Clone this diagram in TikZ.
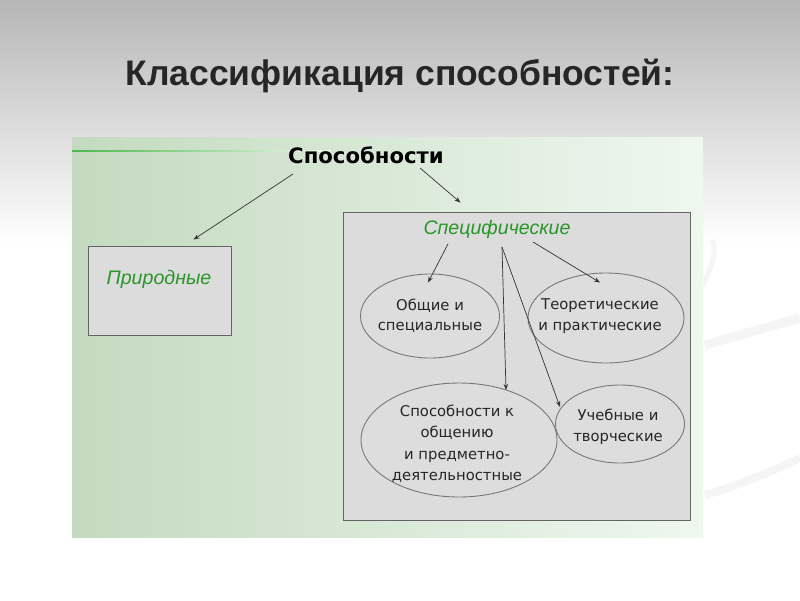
\documentclass[tikz,border=0pt]{standalone}
\usepackage{fontspec}
\setmainfont{Liberation Sans}
\newfontfamily\dvs{DejaVu Sans}
\usetikzlibrary{shapes.geometric,calc,arrows.meta}
\definecolor{boxfill}{RGB}{220,220,220}
\definecolor{boxdraw}{RGB}{100,100,100}
\definecolor{ellfill}{RGB}{221,221,221}
\definecolor{elldraw}{RGB}{120,120,120}
\definecolor{txtgreen}{RGB}{40,150,40}
\definecolor{panelL}{RGB}{196,218,192}
\definecolor{panelR}{RGB}{238,248,238}
\definecolor{bgtop}{RGB}{182,182,182}
\tikzset{
  box/.style={draw=boxdraw, fill=boxfill, line width=0.9pt, rectangle, inner sep=0pt},
  ell/.style={ellipse, draw=elldraw, fill=ellfill, line width=0.9pt, inner sep=0pt},
  elltxt/.style={align=center, font=\dvs\fontsize{14.8}{20.5}\selectfont, text=black!85, inner sep=0pt},
  greentxt/.style={text=txtgreen, font=\itshape\fontsize{19.6}{22}\selectfont},
  arr/.style={draw=black!80, line width=0.7pt, -{Stealth[length=6pt,width=4.5pt]}},
}
\begin{document}
\begin{tikzpicture}[x=1pt,y=-1pt]
\useasboundingbox (0,0) rectangle (800,600);
% background
\fill[white] (0,0) rectangle (800,600);
\shade[top color=bgtop, bottom color=white] (0,0) rectangle (800,245);
% faint swooshes on the right
\draw[black!4, line width=9pt] (705,345) .. controls (740,335) and (775,325) .. (800,318);
\draw[black!4, line width=8pt] (705,495) .. controls (740,485) and (775,470) .. (800,458);
\draw[black!4, line width=5pt] (703,285) .. controls (712,265) and (718,250) .. (712,240);
% green panel
\shade[left color=panelL, right color=panelR] (72,137) rectangle (703,537);
\shade[left color=green!60!black!70, right color=panelR] (72,150) rectangle (330,151.5);
% title
\node[font=\bfseries\fontsize{35.5}{40}\selectfont, text=black!85] (title) at (400,76) {Классификация способностей:};
% top node
\node[font=\dvs\bfseries\fontsize{21.2}{24}\selectfont, text=black] (sposob) at (366,155) {Способности};
% left box
\node[box, minimum width=143pt, minimum height=89pt] (prir) at (159.5,290.5) {};
\node[greentxt] (prirtxt) at (159,279) {Природные};
% right big box
\node[box, minimum width=347pt, minimum height=308pt] (specbox) at (516.5,366) {};
\node[greentxt] (spec) at (497,229) {Специфические};
% ellipses
\node[ell, minimum width=139pt, minimum height=84pt] (e1) at (430,316) {};
\node[elltxt] (e1txt) at (430,316) {Общие и\\специальные};
\node[ell, minimum width=156pt, minimum height=90pt] (e2) at (606,318) {};
\node[elltxt] (e2txt) at (600,316) {Теоретические\\и практические};
\node[ell, minimum width=196pt, minimum height=114pt] (e3) at (459,440) {};
\node[elltxt, font=\dvs\fontsize{14.8}{21.5}\selectfont] (e3txt) at (457,444) {Способности к\\общению\\и предметно-\\деятельностные};
\node[ell, minimum width=129pt, minimum height=78pt] (e4) at (620,424) {};
\node[elltxt] (e4txt) at (618,427) {Учебные и\\творческие};
% arrows
\draw[arr] ($(sposob)+(-73,19)$) -- ($(prir.north)+(34,-6)$);
\draw[arr] ($(sposob)+(54,13)$) -- ($(specbox.north)+(-56,-9)$);
\draw[arr] ($(spec)+(-49,15)$) -- ($(e1.north)+(-2,9)$);
\draw[arr] ($(spec)+(36,13)$) -- ($(e2.north)+(-6,10)$);
\draw[arr] ($(spec)+(5,18)$) -- ($(e3)+(47,-50)$);
\draw[arr] ($(spec)+(5,18)$) -- ($(e4)+(-60,-17)$);
\end{tikzpicture}
\end{document}
